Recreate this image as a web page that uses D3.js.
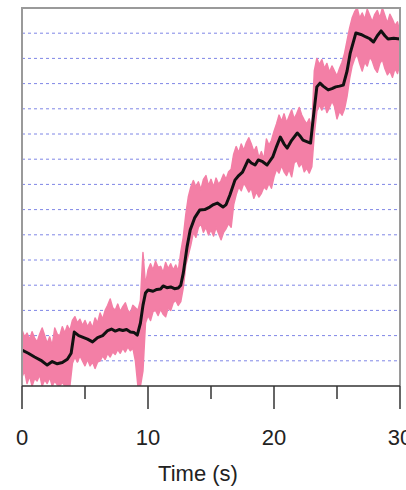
<!DOCTYPE html>
<html>
<head>
<meta charset="utf-8">
<script src="https://cdn.jsdelivr.net/npm/d3@7"></script>
<style>
  body { margin: 0; background: #fff; }
  svg { display: block; }
</style>
</head>
<body>
<div id="chart"></div>
<script>
// time (s) and step level of the smoothed trace
var meanTime = [0, 0.5, 1.0, 1.5, 2.0, 2.4, 2.8, 3.2, 3.6, 3.9, 4.15, 4.5, 4.8, 5.2, 5.6, 6.0, 6.4, 6.8, 7.1, 7.4, 7.7, 8.0, 8.3, 8.6, 8.9, 9.15, 9.4, 9.6, 9.8, 10.0, 10.4, 10.7, 11.0, 11.2, 11.5, 11.8, 12.1, 12.4, 12.6, 12.8, 13.1, 13.35, 13.7, 14.1, 14.5, 14.9, 15.2, 15.5, 15.95, 16.2, 16.5, 16.9, 17.2, 17.5, 17.95, 18.2, 18.5, 18.75, 19.1, 19.45, 19.9, 20.2, 20.5, 20.8, 21.05, 21.4, 21.85, 22.1, 22.3, 22.6, 22.9, 23.1, 23.4, 23.65, 23.9, 24.3, 24.6, 24.9, 25.2, 25.5, 25.8, 26.05, 26.5, 26.9, 27.3, 27.6, 27.9, 28.2, 28.5, 28.8, 29.05, 29.5, 30.0];
var meanLevel = [1.43, 1.3, 1.15, 1.02, 0.83, 0.97, 0.88, 0.93, 1.06, 1.3, 2.14, 2.0, 1.94, 1.86, 1.75, 1.92, 2.0, 2.2, 2.26, 2.18, 2.24, 2.2, 2.24, 2.14, 2.12, 2.02, 2.5, 3.2, 3.69, 3.81, 3.76, 3.83, 3.85, 3.97, 3.9, 3.93, 3.86, 3.89, 4.0, 4.48, 5.52, 6.19, 6.67, 6.98, 7.0, 7.1, 7.2, 7.26, 7.1, 7.2, 7.58, 8.17, 8.35, 8.49, 8.97, 8.85, 8.77, 8.97, 8.9, 8.77, 9.09, 9.5, 9.88, 9.6, 9.44, 9.75, 10.04, 9.9, 9.76, 9.7, 9.64, 10.56, 11.87, 12.02, 11.9, 11.75, 11.8, 11.87, 11.9, 11.94, 12.5, 13.21, 14.01, 13.95, 13.85, 13.78, 13.65, 13.9, 14.09, 13.9, 13.77, 13.8, 13.77];

// envelope of the raw signal
var rawTime = [0, 0.2, 0.4, 0.6, 0.8, 1.0, 1.2, 1.4, 1.6, 1.8, 2.0, 2.2, 2.4, 2.6, 2.8, 3.0, 3.2, 3.4, 3.6, 3.8,
  4.0, 4.2, 4.4, 4.6, 4.8, 5.0, 5.2, 5.4, 5.6, 5.8, 6.0, 6.2, 6.4, 6.6, 6.8, 7.0, 7.2, 7.4, 7.6, 7.8,
  8.0, 8.2, 8.4, 8.6, 8.8, 9.0, 9.2, 9.4, 9.6, 9.8, 10.0, 10.2, 10.4, 10.6, 10.8, 11.0, 11.2, 11.4, 11.6, 11.8,
  12.0, 12.2, 12.4, 12.6, 12.8, 13.0, 13.2, 13.4, 13.6, 13.8, 14.0, 14.2, 14.4, 14.6, 14.8, 15.0, 15.2, 15.4, 15.6, 15.8,
  16.0, 16.2, 16.4, 16.6, 16.8, 17.0, 17.2, 17.4, 17.6, 17.8, 18.0, 18.2, 18.4, 18.6, 18.8, 19.0, 19.2, 19.4, 19.6, 19.8,
  20.0, 20.2, 20.4, 20.6, 20.8, 21.0, 21.2, 21.4, 21.6, 21.8, 22.0, 22.2, 22.4, 22.6, 22.8, 23.0, 23.2, 23.4, 23.6, 23.8,
  24.0, 24.2, 24.4, 24.6, 24.8, 25.0, 25.2, 25.4, 25.6, 25.8, 26.0, 26.2, 26.4, 26.6, 26.8, 27.0, 27.2, 27.4, 27.6, 27.8,
  28.0, 28.2, 28.4, 28.6, 28.8, 29.0, 29.2, 29.4, 29.6, 29.8, 30.0];
var rawUpper = [2.22, 1.95, 2.1, 1.85, 2.15, 1.9, 1.75, 2.05, 2.3, 2.0, 1.7, 1.95, 1.6, 2.3, 2.05, 2.0, 2.35, 2.1, 2.4, 2.2,
  2.6, 2.75, 2.5, 2.65, 2.4, 2.6, 2.35, 2.55, 2.3, 2.7, 2.5, 2.9, 2.65, 3.0, 3.2, 3.45, 3.1, 3.0, 3.25, 2.95,
  3.15, 3.3, 3.0, 2.9, 3.2, 3.1, 3.0, 3.4, 5.3, 4.0, 4.6, 4.85, 4.6, 4.95, 4.7, 4.75, 4.5, 4.9, 4.65, 4.85,
  4.6, 4.8, 4.55, 5.3, 5.9, 6.8, 7.5, 7.9, 8.15, 7.9, 8.1, 7.8, 8.2, 8.35, 7.95, 8.2, 7.9, 8.25, 8.0, 8.15,
  8.4, 8.2, 8.5, 8.6, 9.2, 9.5, 9.25, 9.6, 9.35, 9.65, 9.85, 9.6, 9.3, 9.5, 9.05, 9.3, 9.0, 9.8, 9.55, 9.75,
  10.1, 10.4, 10.75, 10.5, 10.8, 10.45, 10.7, 10.95, 10.6, 10.8, 11.05, 10.75, 10.55, 10.4, 10.6, 10.2, 12.5, 13.0, 12.75, 12.95,
  12.6, 12.8, 12.45, 12.7, 12.5, 12.3, 12.6, 12.85, 13.2, 13.7, 14.2, 14.6, 14.85, 15.0, 14.6, 14.8, 14.55, 14.95, 14.7, 14.45,
  14.75, 14.9, 14.6, 15.0, 14.7, 14.4, 14.75, 14.55, 14.3, 14.45, 14.0];
var rawLower = [0.36, 0.6, 0.1, 0.4, 0.0, 0.3, 0.2, 0.45, 0.0, 0.25, 0.1, 0.35, 0.0, 0.2, 0.05, 0.0, 0.15, 0.0, 0.0, 0.0,
  0.9, 1.15, 0.95, 1.2, 1.0, 0.8, 1.05, 0.8, 0.95, 0.7, 0.95, 1.0, 1.2, 1.05, 1.3, 1.15, 1.35, 1.25, 1.45, 1.3,
  1.5, 1.35, 1.55, 1.4, 1.5, 1.0, 0.0, 0.0, 0.6, 2.5, 2.8, 2.6, 2.95, 3.0, 2.8, 3.05, 2.85, 2.75, 3.1, 3.0,
  3.3, 3.4, 3.2, 3.35, 3.9, 4.8, 5.2, 5.6, 6.1, 5.9, 6.3, 6.45, 6.1, 6.3, 6.0, 6.2, 5.95, 6.3, 6.05, 5.8,
  6.1, 6.25, 6.45, 6.3, 7.2, 7.6, 7.9, 7.75, 8.05, 7.9, 7.7, 7.85, 7.45, 7.7, 7.5, 7.65, 7.9, 7.8, 8.05, 7.85,
  8.3, 8.6, 8.45, 8.75, 8.5, 8.35, 8.6, 8.3, 8.85, 8.95, 8.7, 8.85, 8.5, 8.65, 8.45, 8.7, 10.0, 10.9, 11.15, 10.95,
  11.2, 10.85, 11.05, 11.3, 11.1, 10.6, 10.9, 10.75, 11.0, 11.5, 12.2, 12.7, 13.0, 13.15, 12.8, 12.5, 12.85, 12.7, 13.05, 12.9,
  12.6, 12.45, 12.8, 12.95, 12.6, 12.35, 12.5, 12.25, 12.6, 12.4, 12.8];

var gridLevels = [1, 2, 3, 4, 5, 6, 7, 8, 9, 10, 11, 12, 13, 14];
var majorTicks = [0, 10, 20, 30];
var minorTicks = [5, 15, 25];

var width = 406, height = 490;
var margin = { top: 8, right: 6, bottom: 104, left: 22 };
var w = width - margin.left - margin.right;
var h = height - margin.top - margin.bottom;

var svg = d3.select("#chart").append("svg")
  .attr("width", width)
  .attr("height", height);

var g = svg.append("g")
  .attr("transform", "translate(" + margin.left + "," + margin.top + ")");

var x = d3.scaleLinear().domain([0, 30]).range([0, w]);
var y = d3.scaleLinear().domain([0, 15]).range([h, 0]);

g.append("clipPath").attr("id", "plot-clip")
  .append("rect").attr("width", w).attr("height", h);

// dashed level lines
g.selectAll("line.grid")
  .data(gridLevels).enter()
  .append("line")
  .attr("class", "grid")
  .attr("x1", 0)
  .attr("x2", w)
  .attr("y1", function (d) { return y(d); })
  .attr("y2", function (d) { return y(d); })
  .style("stroke", "#7f86e6")
  .style("stroke-width", 1)
  .style("stroke-dasharray", "3,3");

var plot = g.append("g").attr("clip-path", "url(#plot-clip)");

var band = rawTime.map(function (t, i) {
  return { t: t, hi: rawUpper[i], lo: rawLower[i] };
});

plot.append("path")
  .datum(band)
  .attr("d", d3.area()
    .x(function (d) { return x(d.t); })
    .y0(function (d) { return y(d.lo); })
    .y1(function (d) { return y(d.hi); }))
  .style("fill", "#f37fa6")
  .style("stroke", "#f37fa6")
  .style("stroke-width", 1.5)
  .style("stroke-linejoin", "round");

var mean = meanTime.map(function (t, i) { return { t: t, v: meanLevel[i] }; });

plot.append("path")
  .datum(mean)
  .attr("d", d3.line()
    .x(function (d) { return x(d.t); })
    .y(function (d) { return y(d.v); }))
  .style("fill", "none")
  .style("stroke", "#111")
  .style("stroke-width", 3)
  .style("stroke-linejoin", "round");

// frame: top, left, right
g.append("path")
  .attr("d", "M0," + h + "V0H" + w + "V" + h)
  .style("fill", "none")
  .style("stroke", "#9a9a9a")
  .style("stroke-width", 2);

// x axis
var axis = g.append("g").attr("transform", "translate(0," + h + ")");

axis.append("line")
  .attr("x1", 0).attr("x2", w)
  .style("stroke", "#333")
  .style("stroke-width", 1.5);

axis.selectAll("line.major")
  .data(majorTicks).enter()
  .append("line")
  .attr("class", "major")
  .attr("x1", function (d) { return x(d); })
  .attr("x2", function (d) { return x(d); })
  .attr("y1", 0).attr("y2", 23)
  .style("stroke", "#333")
  .style("stroke-width", 1.5);

axis.selectAll("line.minor")
  .data(minorTicks).enter()
  .append("line")
  .attr("class", "minor")
  .attr("x1", function (d) { return x(d); })
  .attr("x2", function (d) { return x(d); })
  .attr("y1", 0).attr("y2", 13)
  .style("stroke", "#333")
  .style("stroke-width", 1.5);

axis.selectAll("text")
  .data(majorTicks).enter()
  .append("text")
  .attr("x", function (d) { return x(d); })
  .attr("y", 59)
  .attr("text-anchor", "middle")
  .style("font-family", "Liberation Sans, Arial, sans-serif")
  .style("font-size", "22px")
  .style("fill", "#222")
  .text(function (d) { return d; });

svg.append("text")
  .attr("x", 198)
  .attr("y", 481)
  .attr("text-anchor", "middle")
  .style("font-family", "Liberation Sans, Arial, sans-serif")
  .style("font-size", "22px")
  .style("fill", "#222")
  .text("Time (s)");
</script>
</body>
</html>
